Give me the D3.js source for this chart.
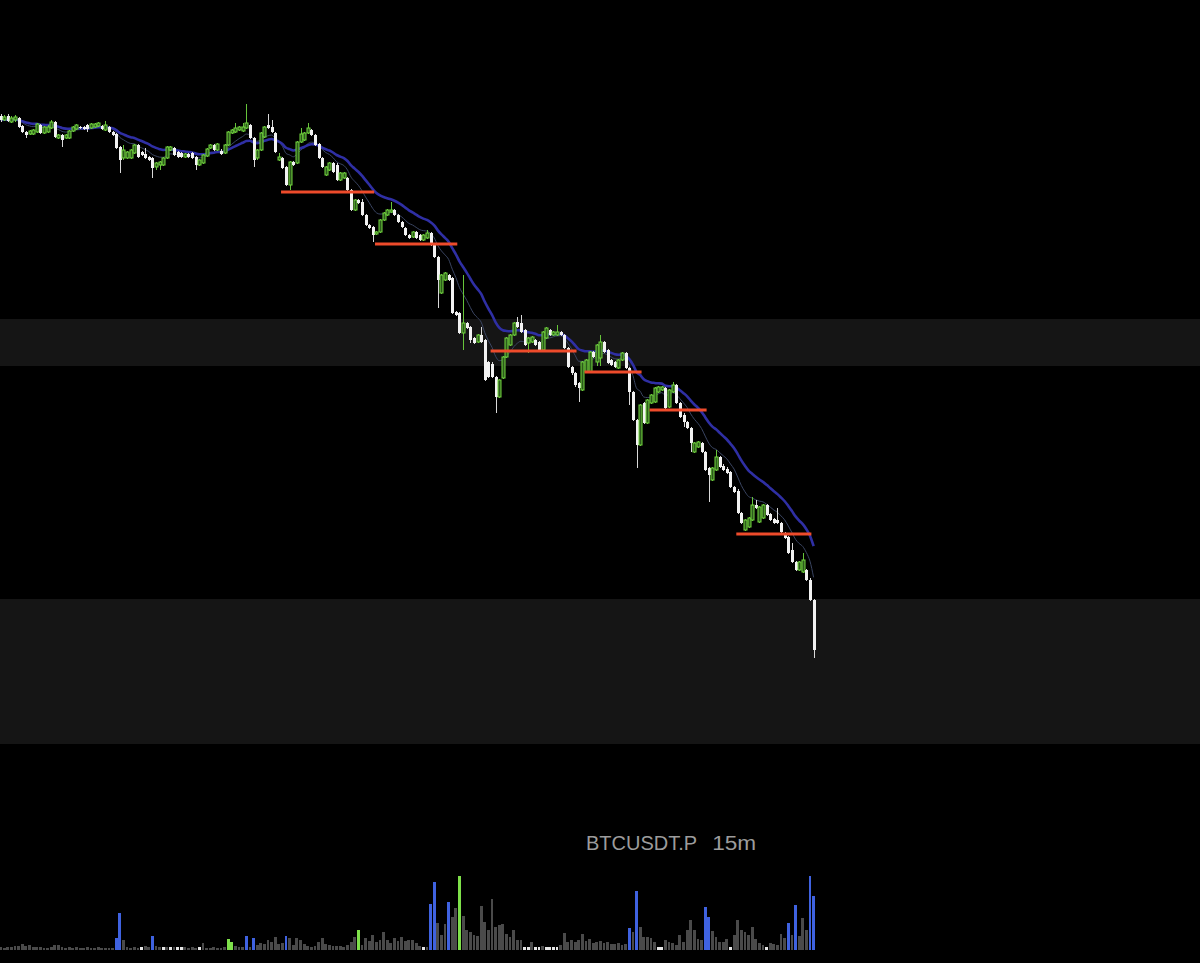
<!DOCTYPE html>
<html>
<head>
<meta charset="utf-8">
<script src="https://cdn.jsdelivr.net/npm/d3@7"></script>
<style>
  html, body { margin: 0; padding: 0; background: #000; }
  svg { display: block; }
</style>
</head>
<body>
<div id="chart"></div>
<script>
// BTCUSDT.P 15m candles, one row per bar: [open, high, low, close]
const ohlc = [
  [98840,98860,98780,98800],[98800,98850,98790,98830],[98840,98860,98780,98790],[98780,98840,98770,98820],
  [98800,98850,98780,98830],[98820,98830,98720,98730],[98740,98750,98670,98680],[98680,98690,98620,98650],
  [98660,98700,98650,98690],[98660,98710,98650,98700],[98680,98770,98670,98760],[98750,98760,98660,98670],
  [98670,98740,98660,98730],[98680,98750,98670,98730],[98720,98800,98710,98780],[98780,98790,98620,98630],
  [98620,98660,98610,98650],[98650,98660,98530,98600],[98620,98660,98610,98650],[98620,98700,98610,98690],
  [98690,98740,98680,98730],[98710,98760,98700,98750],[98730,98740,98710,98720],[98730,98740,98700,98710],
  [98750,98760,98680,98710],[98720,98770,98710,98760],[98730,98770,98720,98760],[98740,98780,98730,98770],
  [98740,98750,98700,98710],[98700,98790,98690,98750],[98730,98740,98670,98680],[98680,98690,98640,98650],
  [98660,98670,98510,98520],[98530,98540,98270,98400],[98420,98550,98400,98500],[98420,98490,98410,98480],
  [98420,98510,98410,98500],[98470,98560,98460,98550],[98550,98560,98420,98430],[98480,98490,98440,98450],
  [98460,98520,98410,98420],[98430,98440,98390,98400],[98420,98430,98220,98320],[98330,98380,98300,98370],
  [98350,98390,98300,98380],[98350,98430,98340,98420],[98420,98540,98410,98530],[98500,98540,98490,98530],
  [98520,98530,98440,98450],[98480,98490,98420,98430],[98470,98480,98420,98430],[98430,98470,98420,98460],
  [98460,98470,98420,98430],[98470,98480,98410,98420],[98430,98440,98300,98350],[98350,98410,98340,98400],
  [98370,98460,98360,98450],[98440,98520,98430,98510],[98520,98560,98510,98550],[98550,98560,98490,98500],
  [98500,98570,98490,98560],[98490,98510,98450,98460],[98470,98560,98460,98550],[98550,98690,98540,98680],
  [98670,98710,98660,98700],[98680,98770,98670,98720],[98700,98740,98690,98730],[98690,98770,98680,98730],
  [98720,98960,98710,98770],[98750,98760,98610,98620],[98620,98630,98330,98400],[98420,98510,98400,98500],
  [98500,98680,98490,98670],[98630,98740,98620,98730],[98750,98860,98710,98720],[98730,98800,98670,98680],
  [98670,98680,98470,98480],[98400,98470,98390,98430],[98420,98430,98310,98320],[98330,98340,98140,98150],
  [98150,98390,98100,98380],[98380,98390,98340,98350],[98370,98590,98360,98580],[98580,98720,98570,98660],
  [98600,98680,98590,98670],[98670,98770,98660,98720],[98700,98710,98640,98650],[98650,98660,98540,98550],
  [98560,98570,98410,98420],[98420,98430,98320,98330],[98250,98340,98240,98330],[98300,98380,98290,98370],
  [98370,98380,98270,98280],[98350,98370,98190,98200],[98200,98280,98190,98270],[98220,98280,98210,98270],
  [98220,98230,98090,98100],[98100,98110,97890,97900],[97900,98010,97890,98000],[98000,98010,97960,97970],
  [97980,98010,97840,97850],[97850,97860,97740,97750],[97750,97760,97710,97720],[97730,97740,97580,97650],
  [97660,97690,97650,97680],[97680,97810,97670,97800],[97800,97880,97790,97870],[97850,97910,97840,97900],
  [97880,97980,97870,97900],[97900,97910,97840,97850],[97850,97860,97770,97780],[97780,97790,97720,97730],
  [97720,97730,97640,97650],[97650,97660,97610,97620],[97630,97690,97620,97680],[97680,97690,97610,97620],
  [97650,97660,97590,97600],[97600,97660,97590,97650],[97620,97700,97610,97670],[97670,97680,97540,97550],
  [97550,97560,97420,97430],[97430,97440,96920,97200],[97070,97260,97060,97250],[97200,97280,97190,97270],
  [97250,97260,97190,97200],[97220,97230,96860,96870],[96880,96890,96840,96850],[96870,96880,96660,96670],
  [96670,97250,96500,96770],[96770,96780,96710,96720],[96730,96740,96570,96600],[96620,96630,96560,96570],
  [96580,96660,96570,96650],[96650,96730,96570,96580],[96600,96610,96190,96200],[96380,96390,96220,96230],
  [96360,96380,96220,96230],[96230,96240,95870,96030],[96030,96210,96020,96200],[96220,96440,96210,96430],
  [96430,96630,96420,96620],[96550,96660,96540,96650],[96650,96780,96640,96770],[96780,96830,96720,96730],
  [96770,96850,96670,96680],[96700,96710,96540,96550],[96570,96630,96470,96620],[96580,96640,96570,96630],
  [96600,96610,96540,96550],[96580,96590,96490,96500],[96500,96690,96490,96680],[96620,96730,96610,96720],
  [96700,96710,96640,96650],[96650,96690,96640,96680],[96650,96750,96640,96680],[96680,96690,96640,96650],
  [96650,96660,96510,96520],[96520,96530,96320,96330],[96330,96340,96250,96270],[96270,96280,96130,96150],
  [96170,96180,95980,96120],[96100,96390,96090,96380],[96280,96410,96270,96400],[96280,96490,96270,96480],
  [96480,96490,96420,96430],[96380,96560,96340,96550],[96420,96650,96340,96580],[96580,96590,96470,96480],
  [96500,96510,96360,96370],[96400,96410,96340,96350],[96380,96390,96320,96330],[96320,96410,96310,96400],
  [96400,96480,96390,96470],[96470,96480,96310,96320],[96320,96330,95950,96080],[96080,96090,95790,95800],
  [95800,95810,95320,95550],[95550,95960,95540,95950],[95970,95980,95760,95770],[95770,96010,95760,96000],
  [95970,96060,95960,96050],[95980,96130,95970,96120],[96080,96140,96070,96130],[96100,96140,96090,96130],
  [96120,96130,95910,95920],[95930,96110,95920,96100],[96080,96180,96070,96150],[96150,96160,95960,95970],
  [95970,95980,95820,95830],[95850,95870,95730,95780],[95780,95790,95710,95720],[95720,95730,95480,95570],
  [95480,95580,95470,95570],[95530,95590,95520,95580],[95570,95580,95470,95480],[95480,95490,95290,95300],
  [95320,95330,94980,95250],[95200,95330,95190,95320],[95300,95500,95290,95430],[95430,95440,95320,95330],
  [95340,95360,95290,95300],[95310,95330,95260,95270],[95280,95290,95120,95130],[95130,95140,95070,95080],
  [95090,95110,94860,94870],[94870,94880,94760,94770],[94700,94810,94690,94800],[94730,94830,94720,94820],
  [94800,95030,94790,94950],[94950,95000,94910,94920],[94780,94940,94770,94930],[94820,94960,94810,94950],
  [94950,94960,94840,94850],[94860,94870,94790,94800],[94810,94820,94760,94770],[94800,94920,94760,94770],
  [94770,94780,94670,94680],[94670,94680,94610,94620],[94630,94640,94460,94470],[94500,94570,94370,94380],
  [94380,94390,94290,94300],[94300,94390,94290,94380],[94280,94470,94270,94400],[94300,94310,94190,94200],
  [94200,94220,93990,94000],[94000,94010,93420,93500]
];

// traded volume per candle (BTC)
const volumes = [
  75,50,75,75,100,100,150,100,125,75,75,75,50,50,75,125,125,75,50,75,50,75,50,50,75,50,50,75,50,50,50,
  50,300,925,250,75,50,75,50,75,100,75,350,100,75,75,75,75,75,75,75,75,50,75,50,75,175,50,50,75,50,50,75,
  275,200,100,75,75,350,75,300,125,175,150,250,200,325,150,175,350,300,125,300,
  250,150,100,75,100,200,300,150,125,100,100,100,75,125,200,325,500,125,300,225,375,200,250,450,250,175,
  300,225,325,225,250,250,175,100,75,75,1150,1700,675,375,650,1200,825,1050,1850,850,500,450,375,350,
  1100,700,500,1275,575,625,650,400,325,500,250,250,75,75,200,75,75,
  100,75,75,75,75,125,425,200,250,200,250,400,225,275,175,200,225,175,200,150,150,175,125,150,550,450,
  1475,575,325,325,300,200,75,75,250,200,175,125,375,200,500,750,500,275,250,1075,825,475,325,200,200,
  275,75,375,750,500,450,375,575,275,175,125,75,175,150,125,400,300,675,375,1125,350,800,500,1850,1350
];

// volume bar categories (candle indices); everything else is a normal grey bar
const blueVolumeBars = [32,33,42,68,70,79,119,120,124,174,176,195,196,218,220,224,225];
const greenVolumeBars = [63,64,99,127];
const whiteVolumeBars = [39,45,47,49,50,55,117,145,146,148,149,151,152,153,154,182,183,202,212];

// horizontal levels: [price, first candle, last candle]
const supportLevels = [
  [98080, 78, 103],
  [97560, 104, 126],
  [96490, 136, 159],
  [96280, 162, 177],
  [95900, 180, 195],
  [94660, 204, 224]
];

// shaded price zones: [upper price, lower price]
const priceZones = [[96810, 96340], [94010, 92560]];

const symbol = 'BTCUSDT.P';
const interval = '15m';

const width = 1200;
const height = 963;

function ema(values, period) {
  const k = 2 / (period + 1);
  let prev = values[0];
  return values.map((v, i) => {
    if (i > 0) prev = v * k + prev * (1 - k);
    return prev;
  });
}

function drawChart() {
  const svg = d3.select('#chart').append('svg')
    .attr('width', width)
    .attr('height', height)
    .style('background', '#000');

  const x = d3.scaleBand()
    .domain(d3.range(ohlc.length))
    .range([-0.8, 815])
    .paddingInner(0.22);
  const bw = x.bandwidth();
  const cx = i => x(i) + bw / 2;

  const y = d3.scaleLinear()
    .domain([100000, 90370])
    .range([0, height]);

  const vy = d3.scaleLinear()
    .domain([0, 2000])
    .range([950, 870]);

  // shaded zones
  svg.append('g').selectAll('rect')
    .data(priceZones)
    .join('rect')
    .attr('x', 0)
    .attr('width', width)
    .attr('y', d => y(d[0]))
    .attr('height', d => y(d[1]) - y(d[0]))
    .attr('fill', '#151515');

  // volume
  const kindOf = i => {
    if (blueVolumeBars.includes(i)) return '#3f62e0';
    if (greenVolumeBars.includes(i)) return '#7ee04a';
    if (whiteVolumeBars.includes(i)) return '#e6e6e6';
    return '#4a4a4a';
  };
  svg.append('g')
    .attr('shape-rendering', 'crispEdges')
    .selectAll('rect')
    .data(volumes)
    .join('rect')
    .attr('x', (d, i) => x(i))
    .attr('width', bw)
    .attr('y', d => vy(d))
    .attr('height', d => vy(0) - vy(d))
    .attr('fill', (d, i) => kindOf(i));

  // moving averages
  const closes = ohlc.map(d => d[3]);
  const line = d3.line()
    .x((d, i) => cx(i))
    .y(d => y(d))
    .curve(d3.curveMonotoneX);

  svg.append('path')
    .datum(ema(closes, 10))
    .attr('d', line)
    .attr('fill', 'none')
    .attr('stroke', '#3a4562')
    .attr('stroke-width', 1);

  svg.append('path')
    .datum(ema(closes, 21))
    .attr('d', line)
    .attr('fill', 'none')
    .attr('stroke', '#2f2fa4')
    .attr('stroke-width', 2.6);

  // candles: up bars hollow green, down bars solid white
  const up = d => d[3] >= d[0];
  const candles = svg.append('g').selectAll('g')
    .data(ohlc)
    .join('g');

  candles.append('line')
    .attr('x1', (d, i) => Math.round(cx(i)) + 0.5)
    .attr('x2', (d, i) => Math.round(cx(i)) + 0.5)
    .attr('y1', d => y(d[1]))
    .attr('y2', d => y(d[2]))
    .attr('stroke', d => up(d) ? '#66c43a' : '#d8d8d8')
    .attr('stroke-width', 1);

  candles.append('rect')
    .attr('x', (d, i) => Math.round(cx(i)) - 1)
    .attr('width', 3)
    .attr('y', d => y(Math.max(d[0], d[3])))
    .attr('height', d => Math.max(1, Math.abs(y(d[0]) - y(d[3]))))
    .attr('fill', d => up(d) ? '#2c5a1c' : '#f2f2f2')
    .attr('stroke', d => up(d) ? '#72d63e' : 'none')
    .attr('stroke-width', 1);

  // levels
  svg.append('g').selectAll('line')
    .data(supportLevels)
    .join('line')
    .attr('x1', d => x(d[1]))
    .attr('x2', d => x(d[2]) + bw)
    .attr('y1', d => y(d[0]))
    .attr('y2', d => y(d[0]))
    .attr('stroke', '#ee4b2b')
    .attr('stroke-width', 3);

  // symbol label
  const label = svg.append('text')
    .attr('x', 586)
    .attr('y', 850)
    .attr('font-family', '"Liberation Sans", Arial, sans-serif')
    .attr('font-size', 20)
    .attr('fill', '#9c9c9c');
  label.append('tspan').text(symbol);
  label.append('tspan')
    .attr('dx', 15)
    .attr('textLength', 44)
    .attr('lengthAdjust', 'spacingAndGlyphs')
    .text(interval);
}

drawChart();
</script>
</body>
</html>
